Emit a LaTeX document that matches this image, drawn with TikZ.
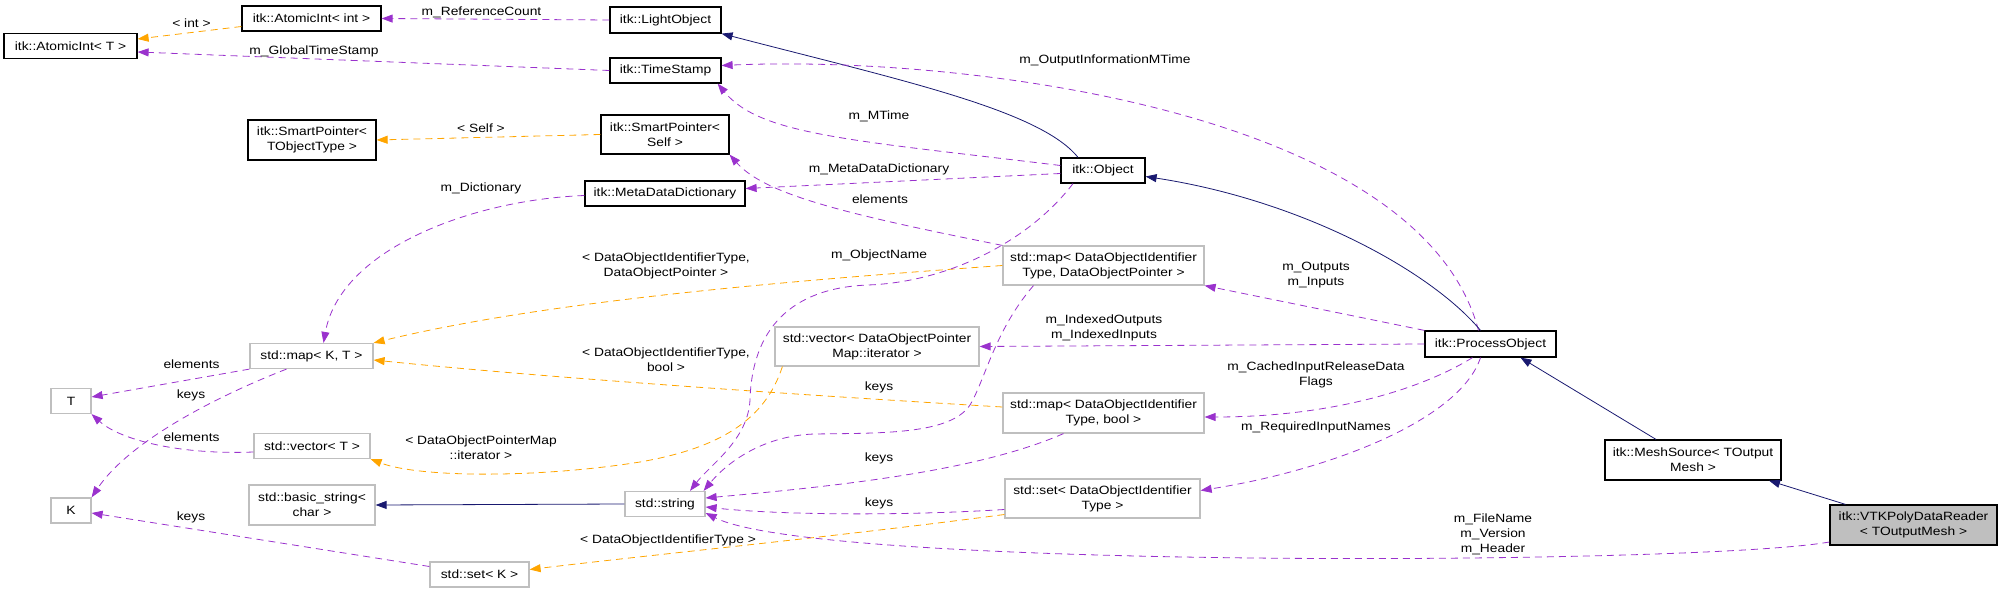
\documentclass[tikz,border=0pt]{standalone}
\usepackage{fontspec}
\setmainfont[FakeStretch=1.15]{Liberation Sans}
\usetikzlibrary{arrows.meta}
\definecolor{inhblue}{HTML}{191970}
\definecolor{usepurple}{HTML}{9A32CD}
\definecolor{tmplorange}{HTML}{FFA500}
\newcommand{\doxyfont}{\fontsize{12}{15}\selectfont}

\begin{document}
\begin{tikzpicture}[
x=1pt, y=-1pt,
cls/.style={draw=black, line width=1.2pt, fill=white, inner sep=0pt, minimum height=25pt, align=center, font=\doxyfont},
extcls/.style={cls, draw=black!25},
focus/.style={cls, fill=black!25},
lbl/.style={inner sep=0pt, align=center, font=\doxyfont},
inh/.style={-{Triangle[length=11pt,width=8pt]}, draw=inhblue, line width=0.8pt},
usage/.style={-{Triangle[length=11pt,width=8pt]}, draw=usepurple, line width=0.8pt, dash pattern=on 7pt off 5pt},
tmpl/.style={usage, draw=tmplorange}
]
\useasboundingbox (0,0) rectangle (2003,593);

\node[cls, minimum width=133pt] (aiT) at (70.5,46) {itk::AtomicInt< T >};
\node[cls, minimum width=139pt] (aiInt) at (311.5,18.5) {itk::AtomicInt< int >};
\node[cls, minimum width=111pt, minimum height=26pt] (light) at (665.5,20) {itk::LightObject};
\node[cls, minimum width=111pt] (tstamp) at (665.5,70.5) {itk::TimeStamp};
\node[cls, minimum width=128pt, minimum height=40pt] (spT) at (312,140) {itk::SmartPointer<\\TObjectType >};
\node[cls, minimum width=128pt, minimum height=39pt] (spSelf) at (665,134.5) {itk::SmartPointer<\\Self >};
\node[cls, minimum width=160pt] (mdd) at (665,193.5) {itk::MetaDataDictionary};
\node[cls, minimum width=84pt] (obj) at (1103,170.5) {itk::Object};
\node[extcls, minimum width=123pt] (mapKT) at (311.5,356) {std::map< K, T >};
\node[extcls, minimum width=40pt] (T) at (71,401) {T};
\node[extcls, minimum width=40pt] (K) at (71,510.5) {K};
\node[extcls, minimum width=116pt] (vecT) at (312,446) {std::vector< T >};
\node[extcls, minimum width=126pt, minimum height=40pt] (bstr) at (312,505) {std::basic\_string<\\char >};
\node[extcls, minimum width=80pt] (str) at (665,504) {std::string};
\node[extcls, minimum width=99pt] (setK) at (479.5,574.5) {std::set< K >};
\node[extcls, minimum width=201pt, minimum height=39pt] (mapDOP) at (1103.5,265.5) {std::map< DataObjectIdentifier\\Type, DataObjectPointer >};
\node[extcls, minimum width=204pt, minimum height=39pt] (vecIt) at (877,346.5) {std::vector< DataObjectPointer\\Map::iterator >};
\node[extcls, minimum width=201pt, minimum height=40pt] (mapBool) at (1103.5,413) {std::map< DataObjectIdentifier\\Type, bool >};
\node[extcls, minimum width=195pt, minimum height=39pt] (setDOIT) at (1102.5,498.5) {std::set< DataObjectIdentifier\\Type >};
\node[cls, minimum width=131pt, minimum height=26pt] (proc) at (1490.5,344) {itk::ProcessObject};
\node[cls, minimum width=176pt, minimum height=40pt] (mesh) at (1693,460) {itk::MeshSource< TOutput\\Mesh >};
\node[focus, minimum width=167pt, minimum height=40pt] (vtk) at (1913.5,525) {itk::VTKPolyDataReader\\< TOutputMesh >};

\draw[tmpl] ([yshift=-8pt]aiInt.west) -- ([yshift=7pt]aiT.east);
\draw[usage] (light.west) -- (aiInt.east);
\draw[usage] (tstamp.west) -- ([yshift=-6pt]aiT.east);
\draw[tmpl] (spSelf.west) -- (spT.east);
\draw[inh] ([xshift=-25pt]obj.north) .. controls (1040,110) and (900,80) .. (light.south east);
\draw[usage] ([yshift=5pt]obj.west) .. controls (850,140) and (760,135) .. ([xshift=-4pt]tstamp.south east);
\draw[usage] ([xshift=-12pt]proc.north) .. controls (1420,110) and (960,55) .. ([yshift=5pt]tstamp.east);
\draw[usage] ([yshift=-3pt]obj.west) -- ([yshift=5pt]mdd.east);
\draw[usage] (mapDOP.north west) .. controls (850,215) and (765,195) .. (spSelf.south east);
\draw[usage] ([yshift=-2pt]mdd.west) .. controls (470,200) and (340,250) .. ([xshift=12pt]mapKT.north);
\draw[tmpl] (mapDOP.west) .. controls (800,280) and (550,300) .. (mapKT.north east);
\draw[tmpl] ([yshift=6pt]mapBool.west) .. controls (800,395) and (550,378) .. ([yshift=-4pt]mapKT.east);
\draw[usage] (mapKT.south west) -- ([yshift=4pt]T.east);
\draw[usage] ([xshift=-25pt]mapKT.south) .. controls (220,395) and (130,440) .. (K.north east);
\draw[usage] ([yshift=-6pt]vecT.west) .. controls (180,455) and (120,440) .. (T.south east);
\draw[tmpl] ([xshift=8pt]vecIt.south west) .. controls (765,420) and (720,448) .. (640,462) .. controls (540,478) and (420,478) .. (vecT.south east);
\draw[inh] (str.west) -- (bstr.east);
\draw[usage] ([yshift=8pt]setK.west) -- ([yshift=-2.5pt]K.east);
\draw[tmpl] ([yshift=-16pt]setDOIT.west) .. controls (850,535) and (650,555) .. ([yshift=5pt]setK.east);
\draw[usage] ([xshift=-30pt]obj.south) .. controls (1030,240) and (950,282) .. (868,285) .. controls (790,288) and (752,330) .. (750,400) .. controls (748,440) and (710,465) .. ([xshift=25pt]str.north);
\draw[usage] ([xshift=-70pt]mapDOP.south) .. controls (995,330) and (985,380) .. (970,405) .. controls (950,435) and (880,433) .. (814,434) .. controls (760,436) and (725,465) .. ([xshift=-2pt]str.north east);
\draw[usage] ([xshift=-40pt]mapBool.south) .. controls (980,470) and (850,485) .. ([yshift=6pt]str.east);
\draw[usage] ([yshift=-11pt]setDOIT.west) .. controls (900,516) and (780,515) .. ([yshift=-3pt]str.east);
\draw[usage] ([yshift=-17pt]vtk.west) .. controls (1700,565) and (820,570) .. ([yshift=-9pt]str.east);
\draw[inh] ([xshift=-10pt]proc.north) .. controls (1430,270) and (1300,200) .. ([yshift=-6pt]obj.east);
\draw[usage] (proc.north west) -- (mapDOP.south east);
\draw[usage] (proc.west) -- (vecIt.east);
\draw[usage] ([xshift=-18pt]proc.south) .. controls (1420,390) and (1330,417) .. ([yshift=-4pt]mapBool.east);
\draw[usage] ([xshift=-10pt]proc.south) .. controls (1460,420) and (1330,470) .. ([yshift=8pt]setDOIT.east);
\draw[inh] ([xshift=-37pt]mesh.north) -- ([xshift=30pt]proc.south);
\draw[inh] ([xshift=-68pt]vtk.north) -- ([xshift=76pt]mesh.south);

\node[lbl] (lInt) at (191.5,23) {< int >};
\node[lbl] (lRef) at (481.5,12) {m\_ReferenceCount};
\node[lbl] (lGlobal) at (314,51) {m\_GlobalTimeStamp};
\node[lbl] (lSelf) at (481,128) {< Self >};
\node[lbl] (lDict) at (481,188) {m\_Dictionary};
\node[lbl] (lOutInfo) at (1105,60) {m\_OutputInformationMTime};
\node[lbl] (lMTime) at (879,116) {m\_MTime};
\node[lbl] (lMeta) at (879,169) {m\_MetaDataDictionary};
\node[lbl] (lElemA) at (880,199) {elements};
\node[lbl] (lObjName) at (879,255) {m\_ObjectName};
\node[lbl] (lDOP) at (666,266) {< DataObjectIdentifierType,\\DataObjectPointer >};
\node[lbl] (lBool) at (666,360) {< DataObjectIdentifierType,\\bool >};
\node[lbl] (lIter) at (481,448) {< DataObjectPointerMap\\::iterator >};
\node[lbl] (lDOIT) at (668,540) {< DataObjectIdentifierType >};
\node[lbl] (lElemB) at (191.5,364) {elements};
\node[lbl] (lKeysA) at (191,395) {keys};
\node[lbl] (lElemC) at (191.5,437) {elements};
\node[lbl] (lKeysB) at (191,517) {keys};
\node[lbl] (lKeysC) at (879,387) {keys};
\node[lbl] (lKeysD) at (879,458) {keys};
\node[lbl] (lKeysE) at (879,503) {keys};
\node[lbl] (lOutputs) at (1316,275) {m\_Outputs\\m\_Inputs};
\node[lbl] (lIndexed) at (1104,328) {m\_IndexedOutputs\\m\_IndexedInputs};
\node[lbl] (lCached) at (1316,375) {m\_CachedInputReleaseData\\Flags};
\node[lbl] (lReq) at (1316,427) {m\_RequiredInputNames};
\node[lbl] (lFile) at (1493,534) {m\_FileName\\m\_Version\\m\_Header};
\end{tikzpicture}
\end{document}
